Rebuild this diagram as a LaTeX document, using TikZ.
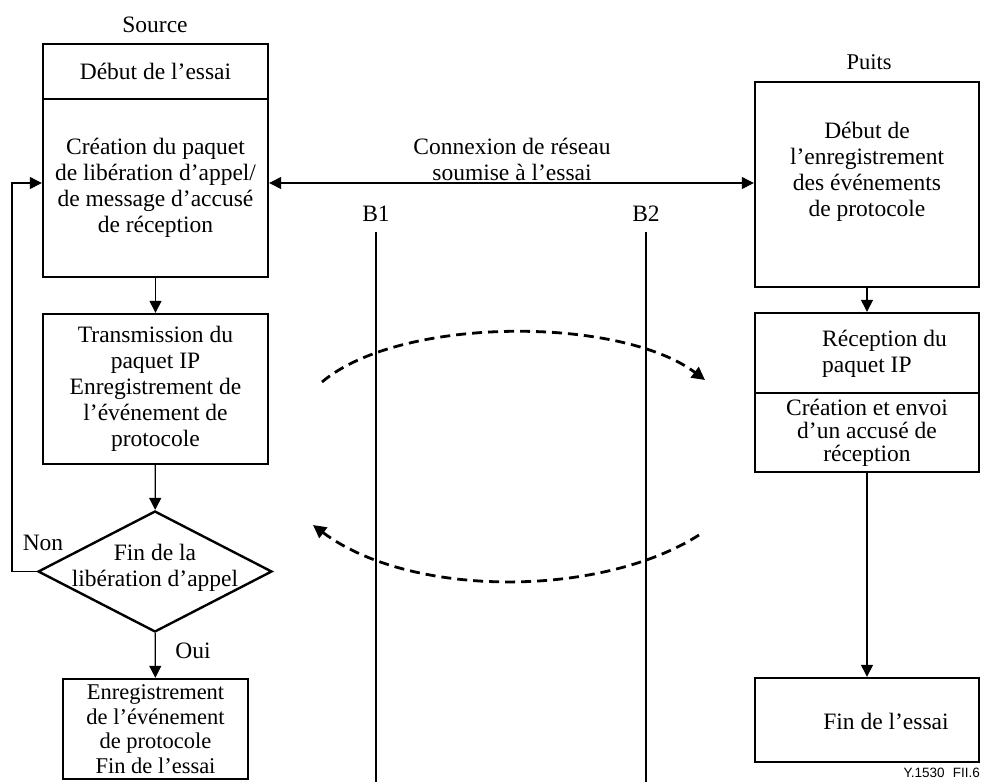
\documentclass[tikz,border=0pt]{standalone}
\usepackage{fontspec}
\setmainfont{Liberation Serif}
\newfontfamily\refsans{Liberation Sans}
\usetikzlibrary{shapes.geometric,arrows.meta,calc}

\begin{document}
\begin{tikzpicture}[x=1pt,y=-1pt,
  box/.style={draw, line width=2.4pt, inner sep=0pt, align=center,
              font=\fontsize{23.5}{26}\selectfont},
  txt/.style={inner sep=0pt, align=center, font=\fontsize{23.5}{26}\selectfont},
  flow/.style={line width=1.3pt, -{Triangle[length=12pt,width=12pt]}},
  bothway/.style={line width=1.3pt, {Triangle[length=12pt,width=12pt]}-{Triangle[length=12pt,width=12pt]}},
  border/.style={line width=2pt},
  msg/.style={line width=2.8pt, dash pattern=on 10pt off 6pt,
              -{Triangle[length=13pt,width=13pt]}}
]
\useasboundingbox (0,0) rectangle (982,782);

% ---- source side ----
\node[txt] (src) at (155,25) {Source};
\node[box, minimum width=225pt, minimum height=55pt] (start) at (155.5,71.5)
  {Début de l’essai};
\node[box, minimum width=225pt, minimum height=178pt] (create) at (155.5,188)
  {Création du paquet\\de libération d’appel/\\de message d’accusé\\de réception};
\node[box, minimum width=225pt, minimum height=150pt] (send) at (155.5,389)
  {Transmission du\\paquet IP\\Enregistrement de\\l’événement de\\protocole};
\node[draw, diamond, line width=2.4pt, minimum width=234pt, minimum height=121pt,
      inner sep=0pt] (dec) at (155,571.5) {};
\node[txt] (dect) at (155,568) {Fin de la\\libération d’appel};
\node[box, minimum width=185pt, minimum height=100pt,
      font=\fontsize{22.5}{24.7}\selectfont] (stop) at (155.5,729)
  {Enregistrement\\de l’événement\\de protocole\\Fin de l’essai};

\node[txt] (non) at (43,543) {Non};
\node[txt] (oui) at (193,651) {Oui};

\draw[flow] (create) -- (send);
\draw[flow] (send) -- (dec);
\draw[flow] (dec) -- (stop);
\coordinate (loopy) at (0,183);
\coordinate (loopx) at (12,0);
\draw[flow] (dec.west) -| (loopx |- loopy) -- (create.west |- loopy);

% ---- sink side ----
\node[txt, font=\fontsize{22.5}{26}\selectfont] (sink) at (869,62) {Puits};
\node[box, minimum width=224pt, minimum height=205pt] (log) at (867,184.5) {};
\node[txt] (logt) at (867,172)
  {Début de\\l’enregistrement\\des événements\\de protocole};
\node[box, minimum width=224pt, minimum height=80pt] (recv) at (867,353) {};
\node[txt, align=left, anchor=west] (recvt) at (822,354) {Réception du\\ paquet IP};
\node[box, minimum width=224pt, minimum height=79pt,
      font=\fontsize{23.5}{23}\selectfont] (ack) at (867,432.5)
  {Création et envoi\\d’un accusé de\\réception};
\node[box, minimum width=224pt, minimum height=84pt] (end) at (867,720) {};
\node[txt] (endt) at (886,721) {Fin de l’essai};

\draw[flow] (log.south -| recv.north) -- (recv.north);
\draw[flow] (ack) -- (end);

% ---- network under test ----
\node[txt] (net) at (512,159) {Connexion de réseau\\soumise à l’essai};
\draw[bothway] (create.east |- loopy) -- (log.west |- loopy);

\node[txt] (b1) at (376,214) {B1};
\node[txt] (b2) at (646,214) {B2};
\coordinate (b1end) at (376,782);
\coordinate (b2end) at (646,782);
\draw[border] (b1 |- 0,232) -- (b1end);
\draw[border] (b2 |- 0,232) -- (b2end);

% ---- exchanged packets ----
\coordinate (outA) at (322,382);
\coordinate (outB) at (705,380);
\coordinate (backA) at (699,535);
\coordinate (backB) at (313,525);
\draw[msg] (outA) .. controls (400,316) and (620,316) .. (outB);
\draw[msg] (backA) .. controls (600,598) and (410,598) .. (backB);

\node[font=\refsans\fontsize{13.5}{13.5}\selectfont, anchor=base east, inner sep=0pt]
  (ref) at (980,777) {Y.1530\hspace{0.6em}FII.6};
\end{tikzpicture}
\end{document}
